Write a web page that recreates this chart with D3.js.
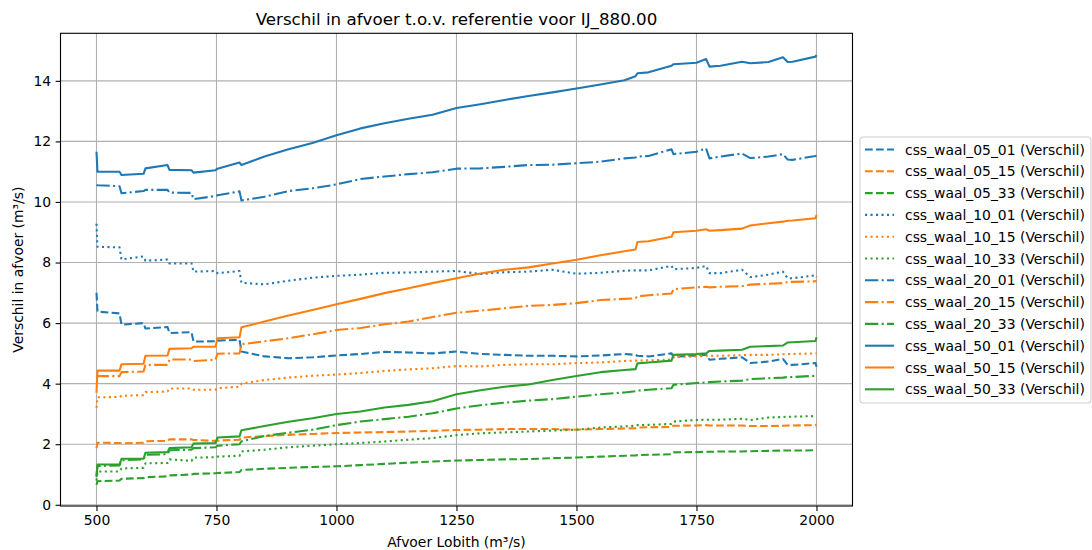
<!DOCTYPE html>
<html>
<head>
<meta charset="utf-8">
<script src="https://cdn.jsdelivr.net/npm/d3@7"></script>
<style>
  html, body { margin: 0; padding: 0; background: #ffffff; }
  svg { display: block; font-family: "DejaVu Sans", sans-serif; }
</style>
</head>
<body>
<svg id="chart" width="1092" height="550"></svg>
<script>
// ---------------- data ----------------
const titleText = "Verschil in afvoer t.o.v. referentie voor IJ_880.00";
const xLabel = "Afvoer Lobith (m³/s)";
const yLabel = "Verschil in afvoer (m³/s)";
const xTicks = [500, 750, 1000, 1250, 1500, 1750, 2000];
const yTicks = [0, 2, 4, 6, 8, 10, 12, 14];

const afvoer = [500, 502, 548, 552, 598, 602, 648, 652, 698, 702, 748, 752, 798, 802, 850, 900, 950, 1000,
  1050, 1100, 1150, 1200, 1250, 1300, 1350, 1400, 1450, 1500, 1550, 1600, 1623, 1627, 1650, 1698, 1702,
  1750, 1770, 1777, 1800, 1845, 1862, 1900, 1930, 1940, 1950, 1998, 2000];

const waal_05_01 = [7.0, 6.38, 6.32, 5.95, 6.0, 5.82, 5.87, 5.67, 5.7, 5.39, 5.4, 5.42, 5.45, 5.06, 4.9, 4.84, 4.87, 4.93,
  4.98, 5.05, 5.03, 5.0, 5.06, 4.98, 4.95, 4.92, 4.92, 4.9, 4.93, 4.98, 4.95, 4.92, 4.9, 5.0, 4.89,
  4.93, 4.95, 4.79, 4.82, 4.87, 4.68, 4.73, 4.82, 4.62, 4.62, 4.68, 4.56];
const waal_05_15 = [1.87, 2.05, 2.04, 2.03, 2.05, 2.1, 2.11, 2.16, 2.16, 2.14, 2.11, 2.12, 2.15, 2.22, 2.27, 2.31, 2.34, 2.37,
  2.39, 2.4, 2.42, 2.44, 2.47, 2.48, 2.5, 2.5, 2.5, 2.48, 2.5, 2.52, 2.53, 2.55, 2.56, 2.57, 2.61,
  2.62, 2.63, 2.62, 2.62, 2.62, 2.6, 2.6, 2.61, 2.62, 2.62, 2.63, 2.63];
const waal_05_33 = [0.66, 0.78, 0.8, 0.86, 0.88, 0.91, 0.94, 0.97, 1.0, 1.02, 1.04, 1.05, 1.08, 1.15, 1.19, 1.22, 1.25, 1.27,
  1.31, 1.35, 1.39, 1.43, 1.46, 1.48, 1.5, 1.51, 1.54, 1.56, 1.59, 1.62, 1.63, 1.64, 1.65, 1.67, 1.73,
  1.74, 1.75, 1.75, 1.76, 1.76, 1.77, 1.78, 1.79, 1.79, 1.79, 1.8, 1.8];
const waal_10_01 = [9.28, 8.52, 8.5, 8.1, 8.2, 8.06, 8.1, 7.97, 7.97, 7.7, 7.72, 7.65, 7.72, 7.33, 7.28, 7.4, 7.5, 7.56,
  7.6, 7.66, 7.67, 7.7, 7.72, 7.62, 7.68, 7.7, 7.76, 7.63, 7.66, 7.73, 7.74, 7.74, 7.74, 7.89, 7.78,
  7.82, 7.89, 7.65, 7.65, 7.76, 7.52, 7.6, 7.7, 7.48, 7.48, 7.58, 7.52];
const waal_10_15 = [3.2, 3.55, 3.56, 3.6, 3.62, 3.72, 3.74, 3.84, 3.84, 3.8, 3.8, 3.85, 3.9, 4.0, 4.12, 4.2, 4.26, 4.3,
  4.35, 4.42, 4.47, 4.51, 4.58, 4.57, 4.62, 4.64, 4.64, 4.68, 4.7, 4.75, 4.76, 4.76, 4.77, 4.8, 4.87,
  4.9, 4.92, 4.92, 4.92, 4.94, 4.95, 4.95, 4.97, 4.98, 4.98, 5.0, 5.0];
const waal_10_33 = [0.8, 1.1, 1.1, 1.2, 1.22, 1.37, 1.38, 1.5, 1.45, 1.56, 1.57, 1.59, 1.62, 1.76, 1.82, 1.9, 1.95, 2.0,
  2.04, 2.09, 2.15, 2.2, 2.3, 2.36, 2.39, 2.42, 2.45, 2.48, 2.55, 2.59, 2.61, 2.63, 2.64, 2.67, 2.75,
  2.8, 2.81, 2.81, 2.81, 2.84, 2.8, 2.88, 2.9, 2.91, 2.91, 2.93, 2.94];
const waal_20_01 = [10.56, 10.55, 10.52, 10.29, 10.36, 10.4, 10.4, 10.31, 10.3, 10.09, 10.2, 10.22, 10.35, 10.05, 10.17, 10.36, 10.45, 10.58,
  10.76, 10.84, 10.92, 10.98, 11.1, 11.11, 11.16, 11.22, 11.23, 11.28, 11.33, 11.44, 11.47, 11.5, 11.52, 11.74, 11.58,
  11.66, 11.77, 11.44, 11.5, 11.6, 11.45, 11.5, 11.58, 11.4, 11.39, 11.52, 11.53];
const waal_20_15 = [4.2, 4.25, 4.25, 4.38, 4.4, 4.62, 4.62, 4.8, 4.8, 4.75, 4.79, 4.99, 5.0, 5.3, 5.4, 5.5, 5.63, 5.77,
  5.84, 5.96, 6.05, 6.2, 6.34, 6.41, 6.49, 6.57, 6.6, 6.66, 6.76, 6.8, 6.82, 6.88, 6.92, 6.98, 7.12,
  7.18, 7.2, 7.18, 7.2, 7.22, 7.27, 7.3, 7.32, 7.36, 7.36, 7.38, 7.4];
const waal_20_33 = [0.95, 1.28, 1.3, 1.47, 1.5, 1.65, 1.67, 1.8, 1.82, 1.87, 1.9, 1.95, 2.0, 2.1, 2.27, 2.38, 2.48, 2.63,
  2.75, 2.83, 2.91, 3.02, 3.18, 3.29, 3.37, 3.44, 3.49, 3.57, 3.65, 3.71, 3.75, 3.77, 3.8, 3.85, 3.96,
  4.02, 4.04, 4.05, 4.07, 4.1, 4.15, 4.18, 4.2, 4.22, 4.22, 4.26, 4.27];
const waal_50_01 = [11.66, 11.0, 11.0, 10.89, 10.93, 11.11, 11.22, 11.06, 11.05, 10.97, 11.05, 11.1, 11.3, 11.22, 11.5, 11.74, 11.95, 12.2,
  12.43, 12.6, 12.75, 12.88, 13.1, 13.23, 13.37, 13.5, 13.62, 13.75, 13.88, 14.02, 14.15, 14.25, 14.28, 14.5, 14.55,
  14.6, 14.72, 14.47, 14.5, 14.63, 14.58, 14.62, 14.78, 14.62, 14.63, 14.8, 14.85];
const waal_50_15 = [3.7, 4.43, 4.43, 4.64, 4.66, 4.92, 4.93, 5.15, 5.17, 5.22, 5.22, 5.5, 5.53, 5.86, 6.05, 6.25, 6.43, 6.62,
  6.8, 6.99, 7.15, 7.32, 7.48, 7.64, 7.76, 7.84, 7.97, 8.09, 8.24, 8.37, 8.43, 8.68, 8.7, 8.85, 9.0,
  9.05, 9.1, 9.05, 9.07, 9.12, 9.22, 9.3, 9.35, 9.38, 9.39, 9.46, 9.57];
const waal_50_33 = [0.92, 1.33, 1.33, 1.52, 1.52, 1.72, 1.74, 1.87, 1.9, 2.02, 2.04, 2.22, 2.26, 2.46, 2.6, 2.74, 2.86, 3.0,
  3.08, 3.21, 3.3, 3.42, 3.65, 3.78, 3.9, 3.97, 4.12, 4.25, 4.38, 4.45, 4.48, 4.67, 4.7, 4.76, 4.95,
  4.98, 5.0, 5.08, 5.09, 5.12, 5.22, 5.24, 5.26, 5.36, 5.37, 5.41, 5.53];

const seriesNames = ["css_waal_05_01", "css_waal_05_15", "css_waal_05_33",
  "css_waal_10_01", "css_waal_10_15", "css_waal_10_33",
  "css_waal_20_01", "css_waal_20_15", "css_waal_20_33",
  "css_waal_50_01", "css_waal_50_15", "css_waal_50_33"];
const seriesValues = [waal_05_01, waal_05_15, waal_05_33, waal_10_01, waal_10_15, waal_10_33,
  waal_20_01, waal_20_15, waal_20_33, waal_50_01, waal_50_15, waal_50_33];

// ---------------- styles ----------------
const colors = ["#1f77b4", "#ff7f0e", "#2ca02c"];
const lw = 2.08;
const dashes = ["7.7,3.3", "2.1,3.4", "13.3,3.3,2.1,3.3", null];

const series = seriesNames.map((n, i) => ({
  name: n + " (Verschil)",
  values: seriesValues[i],
  color: colors[i % 3],
  dash: dashes[Math.floor(i / 3)]
}));

// ---------------- layout ----------------
const svg = d3.select("#chart");
const plot = { left: 60.5, right: 852.5, top: 33.3, bottom: 506 };

const x = d3.scaleLinear().domain([425, 2075]).range([plot.left, plot.right]);
const y = d3.scaleLinear().domain([-0.04, 15.57]).range([plot.bottom, plot.top]);

// grid
const grid = svg.append("g");
grid.selectAll("line.gx").data(xTicks).enter().append("line")
  .attr("x1", d => x(d)).attr("x2", d => x(d))
  .attr("y1", plot.top).attr("y2", plot.bottom)
  .attr("stroke", "#b0b0b0").attr("stroke-width", 1.1);
grid.selectAll("line.gy").data(yTicks).enter().append("line")
  .attr("x1", plot.left).attr("x2", plot.right)
  .attr("y1", d => y(d)).attr("y2", d => y(d))
  .attr("stroke", "#b0b0b0").attr("stroke-width", 1.1);

// lines
svg.append("clipPath").attr("id", "clip").append("rect")
  .attr("x", plot.left).attr("y", plot.top)
  .attr("width", plot.right - plot.left).attr("height", plot.bottom - plot.top);

const line = d3.line().x((d, i) => x(afvoer[i])).y(d => y(d));
const lines = svg.append("g").attr("clip-path", "url(#clip)");
series.forEach(s => {
  lines.append("path")
    .attr("d", line(s.values))
    .attr("fill", "none")
    .attr("stroke", s.color)
    .attr("stroke-width", lw)
    .attr("stroke-dasharray", s.dash)
    .attr("stroke-linejoin", "round");
});

// axes
const xAxis = d3.axisBottom(x).tickValues(xTicks).tickSize(4.9).tickPadding(4.5).tickFormat(d3.format("d"));
const yAxis = d3.axisLeft(y).tickValues(yTicks).tickSize(4.9).tickPadding(4.5).tickFormat(d3.format("d"));

const gx = svg.append("g").attr("transform", `translate(0,${plot.bottom})`).call(xAxis);
const gy = svg.append("g").attr("transform", `translate(${plot.left},0)`).call(yAxis);
[gx, gy].forEach(g => {
  g.select(".domain").remove();
  g.selectAll(".tick line").attr("stroke", "#000").attr("stroke-width", 1.1);
  g.selectAll(".tick text").attr("fill", "#000").style("font-size", "13.9px")
    .style("font-family", "DejaVu Sans, sans-serif");
});

// frame
svg.append("rect")
  .attr("x", plot.left).attr("y", plot.top)
  .attr("width", plot.right - plot.left).attr("height", plot.bottom - plot.top)
  .attr("fill", "none").attr("stroke", "#000").attr("stroke-width", 1.1);

// title & labels
svg.append("text")
  .attr("x", (plot.left + plot.right) / 2).attr("y", 24.5)
  .attr("text-anchor", "middle").style("font-size", "16.7px").attr("fill", "#000")
  .text(titleText);
svg.append("text")
  .attr("x", (plot.left + plot.right) / 2).attr("y", 547)
  .attr("text-anchor", "middle").style("font-size", "13.9px").attr("fill", "#000")
  .text(xLabel);
svg.append("text")
  .attr("transform", `translate(22.5,${(plot.top + plot.bottom) / 2}) rotate(-90)`)
  .attr("text-anchor", "middle").style("font-size", "13.9px").attr("fill", "#000")
  .text(yLabel);

// legend
const leg = svg.append("g").attr("transform", "translate(860,137)");
leg.append("rect")
  .attr("x", 0).attr("y", 0).attr("width", 231).attr("height", 266)
  .attr("rx", 3).attr("ry", 3)
  .attr("fill", "#fff").attr("fill-opacity", 0.8)
  .attr("stroke", "#d0d0d0").attr("stroke-width", 1.1);
series.forEach((s, i) => {
  const yy = 12.5 + i * 21.8;
  leg.append("line")
    .attr("x1", 5).attr("x2", 34).attr("y1", yy).attr("y2", yy)
    .attr("stroke", s.color).attr("stroke-width", lw)
    .attr("stroke-dasharray", s.dash);
  leg.append("text")
    .attr("x", 45).attr("y", yy).attr("dy", "0.36em")
    .style("font-size", "13.9px").attr("fill", "#000")
    .text(s.name);
});
</script>
</body>
</html>
